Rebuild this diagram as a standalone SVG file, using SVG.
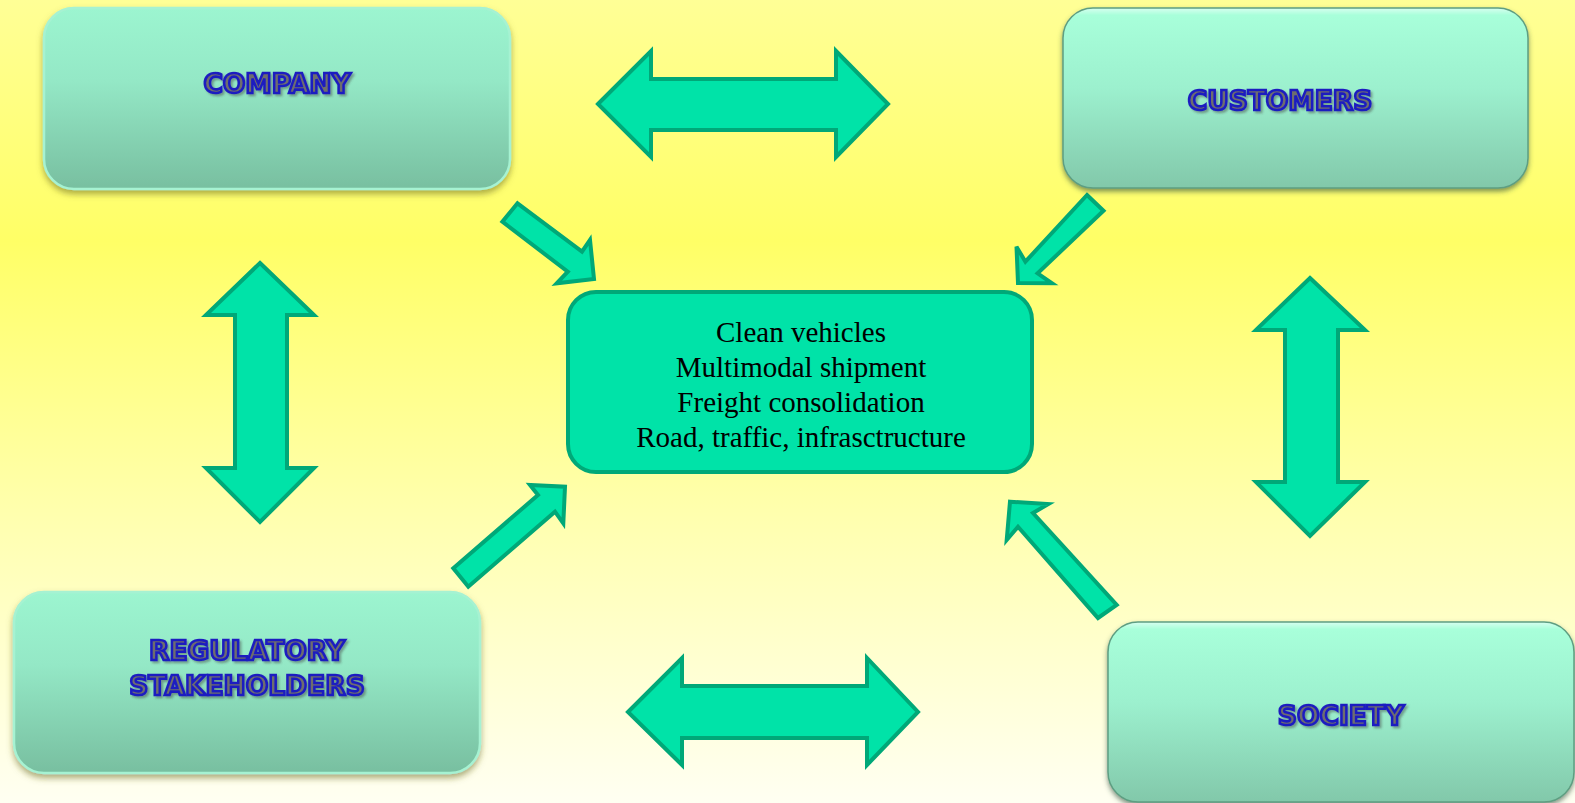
<svg xmlns="http://www.w3.org/2000/svg" width="1575" height="803" viewBox="0 0 1575 803">
<defs>
<linearGradient id="bg" x1="0" y1="0" x2="0" y2="1">
<stop offset="0" stop-color="#FFFF96"/>
<stop offset="0.3" stop-color="#FFFF66"/>
<stop offset="0.65" stop-color="#FFFFB0"/>
<stop offset="1" stop-color="#FFFFF2"/>
</linearGradient>
<linearGradient id="flatFill" x1="0" y1="0" x2="0" y2="1">
<stop offset="0" stop-color="#9CF5D0"/>
<stop offset="0.4" stop-color="#94E8C6"/>
<stop offset="1" stop-color="#78BFA0"/>
</linearGradient>
<linearGradient id="bevelFill" x1="0" y1="0" x2="0" y2="1">
<stop offset="0" stop-color="#D8FFF0"/>
<stop offset="0.04" stop-color="#A8FFDA"/>
<stop offset="0.45" stop-color="#9CF0CE"/>
<stop offset="1" stop-color="#82C8AA"/>
</linearGradient>
<filter id="shadow" x="-10%" y="-10%" width="120%" height="130%">
<feGaussianBlur in="SourceAlpha" stdDeviation="3"/>
<feOffset dx="0" dy="4" result="b"/>
<feFlood flood-color="#6B6B20" flood-opacity="0.55"/>
<feComposite in2="b" operator="in"/>
<feMerge><feMergeNode/><feMergeNode in="SourceGraphic"/></feMerge>
</filter>
<filter id="bevelShadow" x="-10%" y="-10%" width="120%" height="130%">
<feGaussianBlur in="SourceAlpha" stdDeviation="2.5"/>
<feOffset dx="0" dy="3" result="b"/>
<feFlood flood-color="#30503C" flood-opacity="0.6"/>
<feComposite in2="b" operator="in"/>
<feMerge><feMergeNode/><feMergeNode in="SourceGraphic"/></feMerge>
</filter>
<filter id="txtShadow" x="-10%" y="-30%" width="120%" height="160%">
<feGaussianBlur in="SourceAlpha" stdDeviation="1.2"/>
<feOffset dx="1.5" dy="2" result="b"/>
<feFlood flood-color="#404040" flood-opacity="0.45"/>
<feComposite in2="b" operator="in"/>
<feMerge><feMergeNode/><feMergeNode in="SourceGraphic"/></feMerge>
</filter>
</defs>
<style>
.flat{fill:url(#flatFill);stroke:#A6F2D2;stroke-width:2.5;filter:url(#shadow)}
.bevel{fill:url(#bevelFill);stroke:#5E9E82;stroke-width:1.5;filter:url(#bevelShadow)}
.lbl{font-family:"DejaVu Sans",Verdana,sans-serif;font-weight:bold;font-size:26.5px;fill:#6E6E6E;stroke:#1E1EC0;stroke-width:2.6;text-anchor:middle;filter:url(#txtShadow)}
.center{fill:#00E3A8;stroke:#00A878;stroke-width:4}
.ctxt{font-family:"Liberation Serif","Times New Roman",serif;font-size:29px;fill:#000;text-anchor:middle}
.arr{fill:#00E3A8;stroke:#00A878;stroke-width:4;stroke-linejoin:miter}
</style>
<rect x="0" y="0" width="1575" height="803" fill="url(#bg)"/>

<g id="connectors">
<polygon class="arr" points="598,104 651,51 651,79 836,79 836,51 888,104 836,157 836,130 651,130 651,157"/>
<polygon class="arr" points="628,712 682,658 682,686 867,686 867,658 918,712 867,765 867,738 682,738 682,765"/>
<polygon class="arr" points="260,263 314,315 287,315 287,468 314,468 260,522 206,468 235,468 235,315 206,315"/>
<polygon class="arr" points="1310,278 1365,330 1338,330 1338,482 1365,482 1310,536 1256,482 1285,482 1285,330 1256,330"/>
<polygon class="arr" points="517.5,203.3 582,251.7 590,240 594,279 556.7,283.3 567.8,271.7 502.4,221.7"/>
<polygon class="arr" points="1087,195 1103.5,210.7 1037.6,273.3 1052,283.3 1018,283 1016.5,246.7 1025.4,261.7"/>
<polygon class="arr" points="453.3,568.3 538,495 530,485 565,486.7 563.3,523.3 555,511.7 468.3,586.7"/>
<polygon class="arr" points="1010,501.7 1048.3,504 1033,513 1116.7,605 1098,618 1018,526.7 1006.7,540"/>
</g>

<g id="company">
<rect class="flat" x="44" y="8" width="466" height="181" rx="30"/>
<text class="lbl" x="277" y="93">COMPANY</text>
</g>

<g id="customers">
<rect class="bevel" x="1063" y="8" width="465" height="180" rx="30"/>
<text class="lbl" x="1280" y="110">CUSTOMERS</text>
</g>

<g id="regulatory">
<rect class="flat" x="14" y="592" width="466" height="181" rx="30"/>
<text class="lbl" x="247" y="660">REGULATORY</text>
<text class="lbl" x="247" y="695">STAKEHOLDERS</text>
</g>

<g id="society">
<rect class="bevel" x="1108" y="622" width="466" height="180" rx="30"/>
<text class="lbl" x="1341" y="725">SOCIETY</text>
</g>

<g id="center">
<rect class="center" x="568" y="292" width="464" height="180" rx="28"/>
<text class="ctxt" x="801" y="342">Clean vehicles</text>
<text class="ctxt" x="801" y="377">Multimodal shipment</text>
<text class="ctxt" x="801" y="412">Freight consolidation</text>
<text class="ctxt" x="801" y="447">Road, traffic, infrasctructure</text>
</g>
</svg>
